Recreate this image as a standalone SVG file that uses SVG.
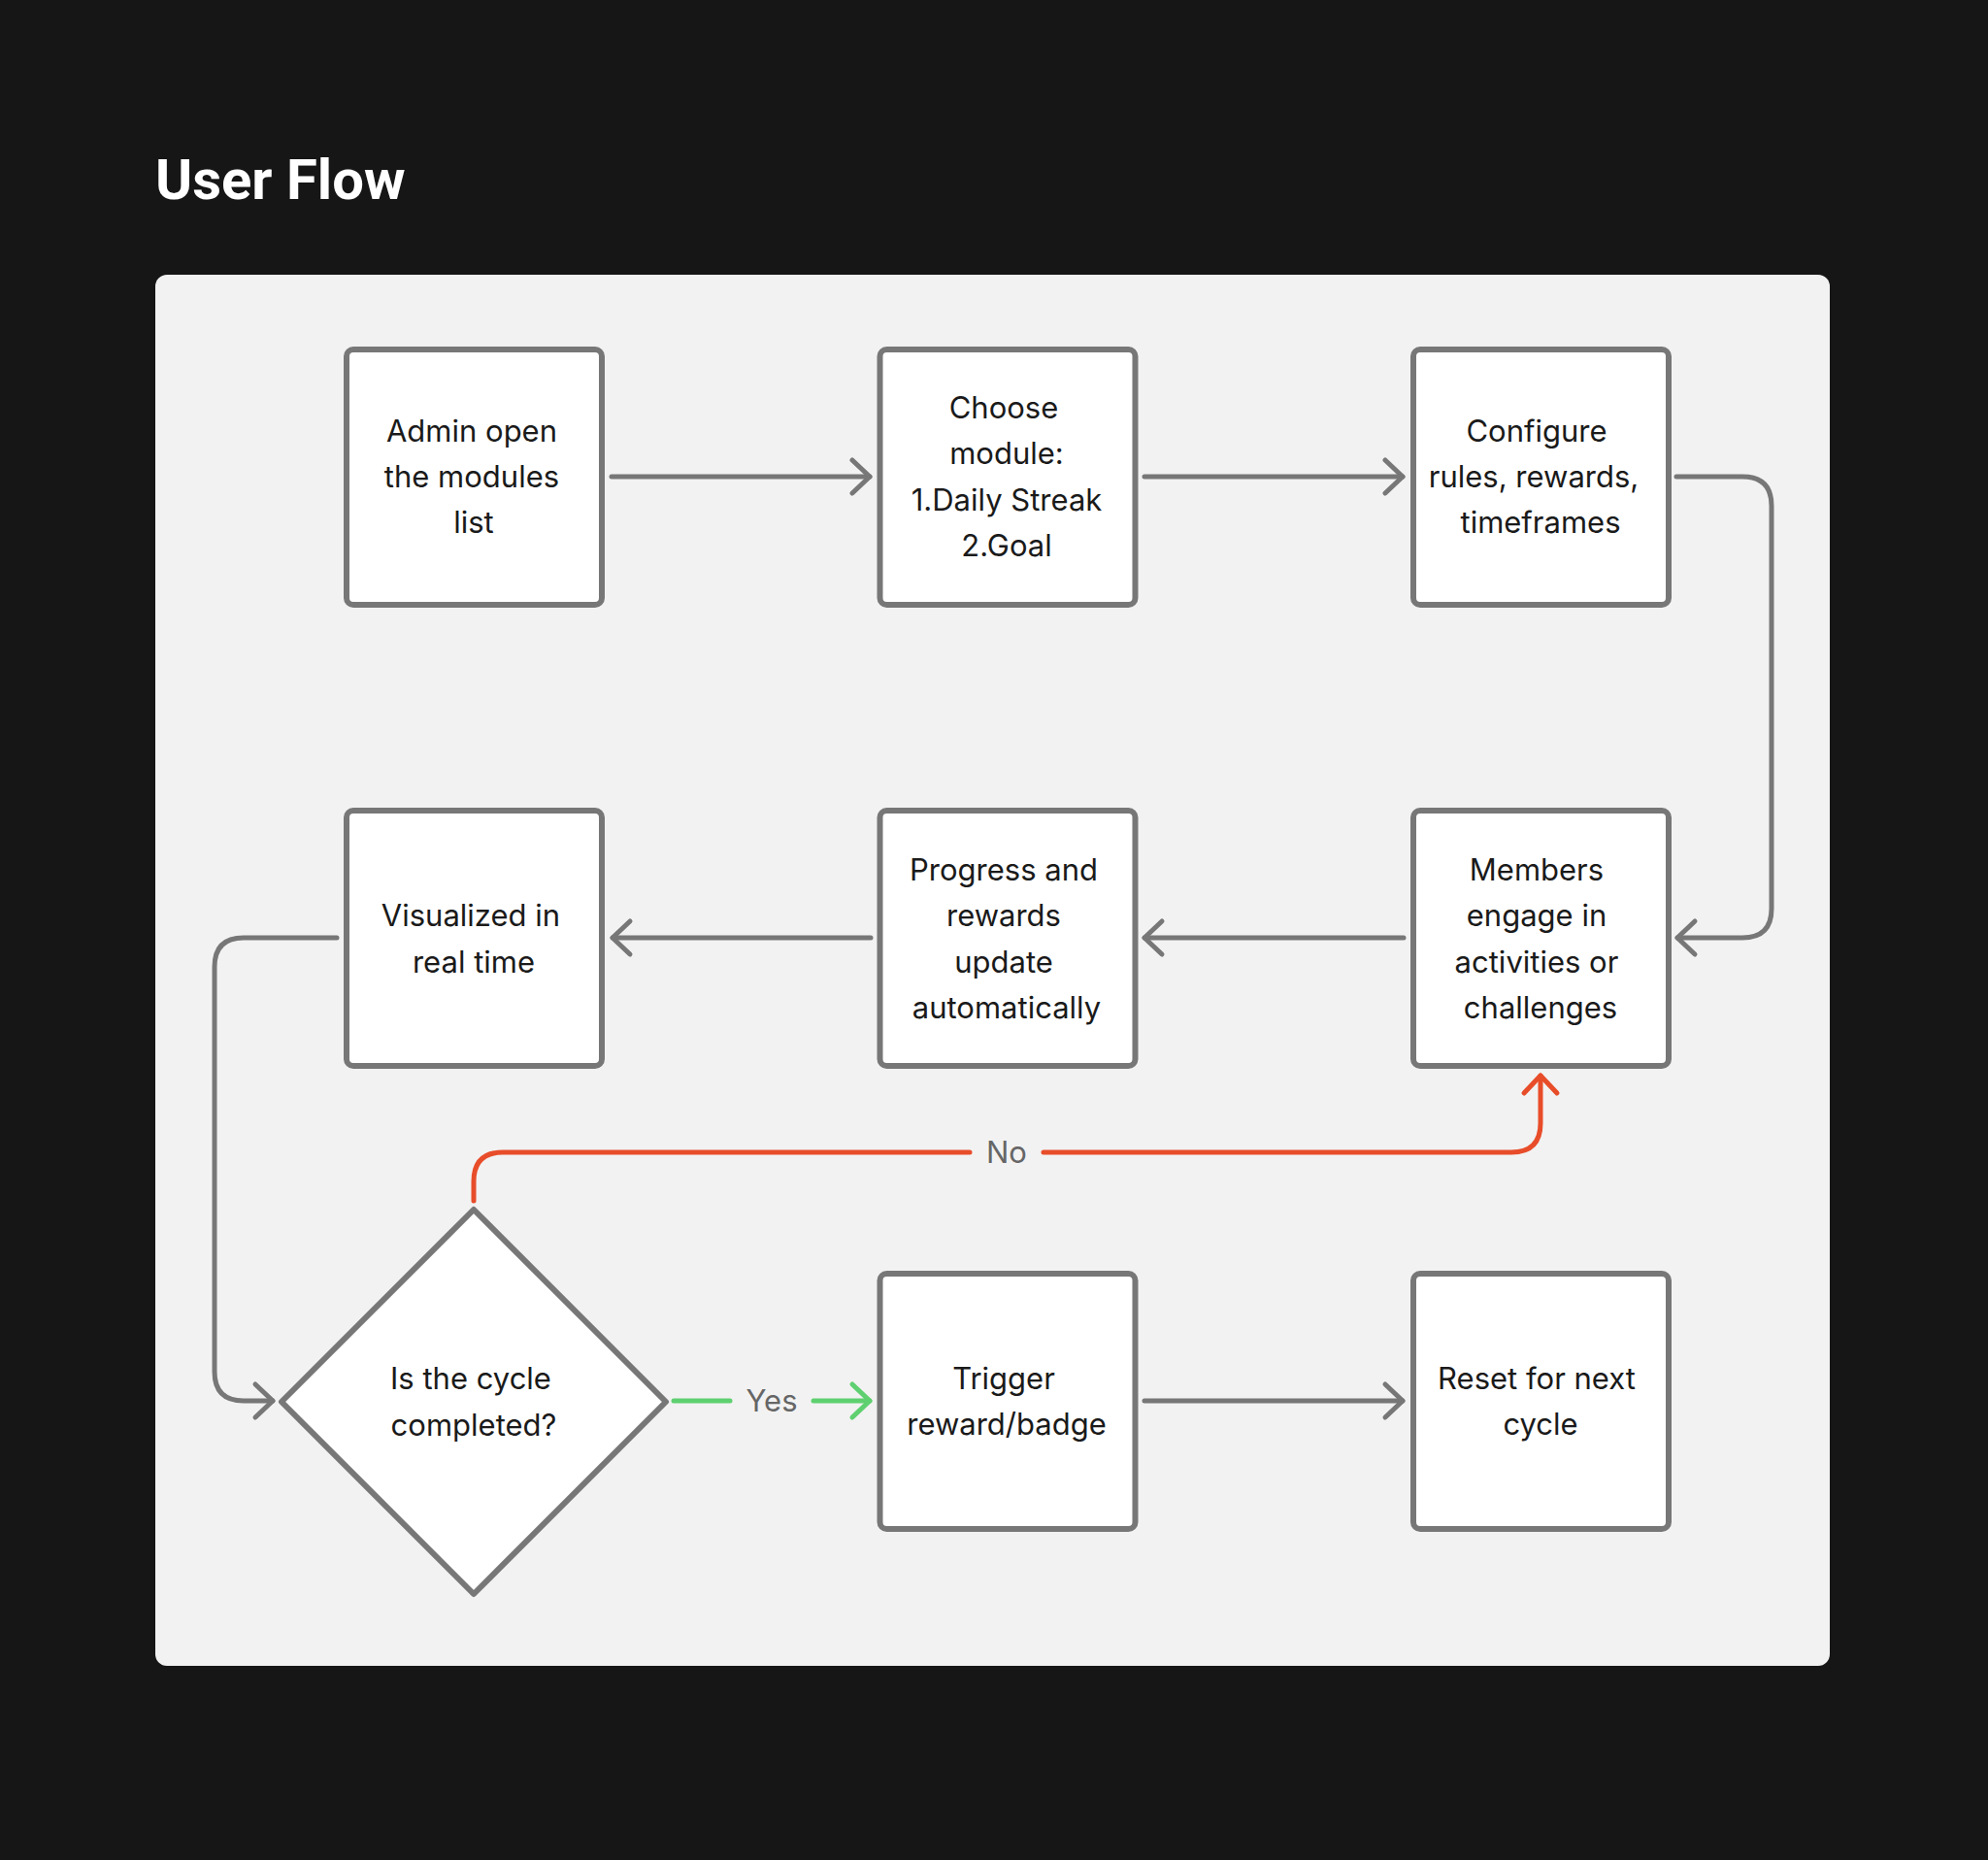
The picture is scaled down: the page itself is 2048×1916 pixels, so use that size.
<svg xmlns="http://www.w3.org/2000/svg" width="2048" height="1916" viewBox="0 0 2048 1916">
  <style>
    .title { font-family: Roboto, "Liberation Sans", sans-serif; font-weight: 700; font-size: 58px; fill: #ffffff; }
    .box { fill: #ffffff; stroke: #777777; stroke-width: 6; }
    .lbl { font-family: Inter, "Noto Sans", "Liberation Sans", sans-serif; font-size: 31px; fill: #1a1a1a; text-anchor: middle; }
    .edge { fill: none; stroke: #777777; stroke-width: 5; stroke-linecap: round; stroke-linejoin: round; }
    .no { stroke: #e84d2a; }
    .yes { stroke: #5fd070; }
    .elbl { font-family: Inter, "Noto Sans", "Liberation Sans", sans-serif; font-size: 31px; fill: #666666; text-anchor: middle; }
  </style>
  <defs>
    <marker id="ah" viewBox="-22 -22 44 44" refX="0" refY="0" markerWidth="44" markerHeight="44" markerUnits="userSpaceOnUse" orient="auto" overflow="visible">
      <path d="M -18 -17 L 0 0 L -18 17" fill="none" stroke="#777777" stroke-width="5" stroke-linecap="round" stroke-linejoin="round"/>
    </marker>
    <marker id="ah-no" viewBox="-22 -22 44 44" refX="0" refY="0" markerWidth="44" markerHeight="44" markerUnits="userSpaceOnUse" orient="auto" overflow="visible">
      <path d="M -18 -17 L 0 0 L -18 17" fill="none" stroke="#e84d2a" stroke-width="5" stroke-linecap="round" stroke-linejoin="round"/>
    </marker>
    <marker id="ah-yes" viewBox="-22 -22 44 44" refX="0" refY="0" markerWidth="44" markerHeight="44" markerUnits="userSpaceOnUse" orient="auto" overflow="visible">
      <path d="M -18 -17 L 0 0 L -18 17" fill="none" stroke="#5fd070" stroke-width="5" stroke-linecap="round" stroke-linejoin="round"/>
    </marker>
  </defs>

  <rect x="0" y="0" width="2048" height="1916" fill="#161616"/>
  <text class="title" x="160" y="205">User Flow</text>
  <rect x="160" y="283" width="1725" height="1433" rx="12" fill="#f2f2f2"/>

  <g id="connectors">
    <path class="edge" d="M 630 491 H 896" marker-end="url(#ah)"/>
    <path class="edge" d="M 1179 491 H 1445" marker-end="url(#ah)"/>
    <path class="edge" d="M 1727 491 H 1795 Q 1825 491 1825 521 V 936 Q 1825 966 1795 966 H 1728" marker-end="url(#ah)"/>
    <path class="edge" d="M 1446 966 H 1179" marker-end="url(#ah)"/>
    <path class="edge" d="M 897 966 H 631" marker-end="url(#ah)"/>
    <path class="edge" d="M 347 966 H 251 Q 221 966 221 996 V 1413 Q 221 1443 251 1443 H 281" marker-end="url(#ah)"/>
    <path class="edge no" d="M 488 1237 V 1217 Q 488 1187 518 1187 H 999"/>
    <path class="edge no" d="M 1075 1187 H 1557 Q 1587 1187 1587 1157 V 1108" marker-end="url(#ah-no)"/>
    <text class="elbl" x="1037" y="1198">No</text>
    <path class="edge yes" d="M 694 1443 H 752"/>
    <path class="edge yes" d="M 838 1443 H 896" marker-end="url(#ah-yes)"/>
    <text class="elbl" x="795" y="1454">Yes</text>
    <path class="edge" d="M 1179 1443 H 1445" marker-end="url(#ah)"/>
  </g>

  <g id="node-admin">
    <rect class="box" x="357" y="360" width="263" height="263" rx="7"/>
    <text class="lbl"><tspan x="486" y="455">Admin open</tspan><tspan x="486" y="502">the modules</tspan><tspan x="488" y="549">list</tspan></text>
  </g>
  <g id="node-choose">
    <rect class="box" x="906.5" y="360" width="263" height="263" rx="7"/>
    <text class="lbl"><tspan x="1034" y="431">Choose</tspan><tspan x="1037" y="478">module:</tspan><tspan x="1037" y="526">1.Daily Streak</tspan><tspan x="1037" y="573">2.Goal</tspan></text>
  </g>
  <g id="node-configure">
    <rect class="box" x="1456" y="360" width="263" height="263" rx="7"/>
    <text class="lbl"><tspan x="1583" y="455">Configure</tspan><tspan x="1580" y="502">rules, rewards,</tspan><tspan x="1587" y="549">timeframes</tspan></text>
  </g>
  <g id="node-members">
    <rect class="box" x="1456" y="835" width="263" height="263" rx="7"/>
    <text class="lbl"><tspan x="1583" y="907">Members</tspan><tspan x="1583" y="954">engage in</tspan><tspan x="1583" y="1002">activities or</tspan><tspan x="1587" y="1049">challenges</tspan></text>
  </g>
  <g id="node-progress">
    <rect class="box" x="906.5" y="835" width="263" height="263" rx="7"/>
    <text class="lbl"><tspan x="1034" y="907">Progress and</tspan><tspan x="1034" y="954">rewards</tspan><tspan x="1034" y="1002">update</tspan><tspan x="1037" y="1049">automatically</tspan></text>
  </g>
  <g id="node-visualized">
    <rect class="box" x="357" y="835" width="263" height="263" rx="7"/>
    <text class="lbl"><tspan x="485" y="954">Visualized in</tspan><tspan x="488" y="1002">real time</tspan></text>
  </g>
  <g id="node-decision">
    <polygon class="box" points="488,1246 686,1444 488,1642 290,1444" stroke-linejoin="round" stroke-width="5"/>
    <text class="lbl"><tspan x="485" y="1431">Is the cycle</tspan><tspan x="488" y="1479">completed?</tspan></text>
  </g>
  <g id="node-trigger">
    <rect class="box" x="906.5" y="1312" width="263" height="263" rx="7"/>
    <text class="lbl"><tspan x="1034" y="1431">Trigger</tspan><tspan x="1037" y="1478">reward/badge</tspan></text>
  </g>
  <g id="node-reset">
    <rect class="box" x="1456" y="1312" width="263" height="263" rx="7"/>
    <text class="lbl"><tspan x="1583" y="1431">Reset for next</tspan><tspan x="1587" y="1478">cycle</tspan></text>
  </g>
</svg>
